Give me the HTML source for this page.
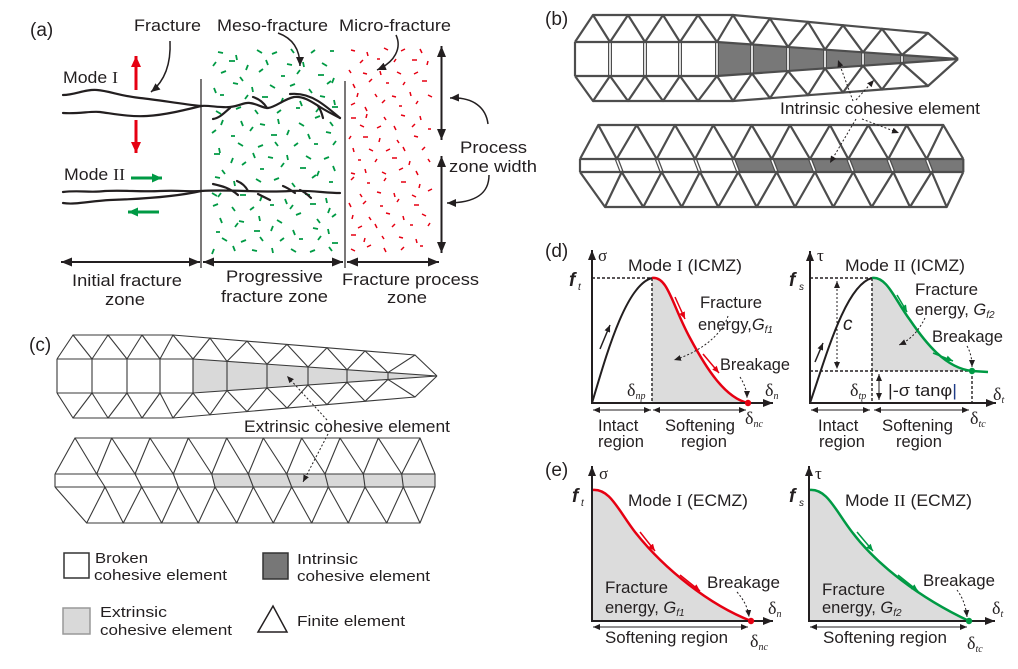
<!DOCTYPE html>
<html><head><meta charset="utf-8"><style>
html,body{margin:0;padding:0;background:#fff;}
svg{display:block;}
text{font-family:"Liberation Sans",Arial,sans-serif;fill:#231f20;}
.se{font-family:"Liberation Serif","DejaVu Serif",serif;}
</style></head><body>
<svg width="1018" height="669" viewBox="0 0 1018 669" xmlns="http://www.w3.org/2000/svg">
<defs>
<marker id="A" viewBox="0 0 10 10" refX="10" refY="5" markerWidth="11" markerHeight="9" markerUnits="userSpaceOnUse" orient="auto-start-reverse" preserveAspectRatio="none"><path d="M0 0L10 5L0 10z" fill="#231f20"/></marker>
<marker id="AR" viewBox="0 0 10 10" refX="10" refY="5" markerWidth="11" markerHeight="10" markerUnits="userSpaceOnUse" orient="auto-start-reverse" preserveAspectRatio="none"><path d="M0 0L10 5L0 10z" fill="#e60012"/></marker>
<marker id="AG" viewBox="0 0 10 10" refX="10" refY="5" markerWidth="10" markerHeight="9" markerUnits="userSpaceOnUse" orient="auto-start-reverse" preserveAspectRatio="none"><path d="M0 0L10 5L0 10z" fill="#009a44"/></marker>
<marker id="X" viewBox="0 0 10 10" refX="10" refY="5" markerWidth="10" markerHeight="8" markerUnits="userSpaceOnUse" orient="auto-start-reverse" preserveAspectRatio="none"><path d="M0 0L10 5L0 10z" fill="#231f20"/></marker>
<marker id="S" viewBox="0 0 10 10" refX="10" refY="5" markerWidth="7" markerHeight="6" markerUnits="userSpaceOnUse" orient="auto-start-reverse" preserveAspectRatio="none"><path d="M0 0L10 5L0 10z" fill="#231f20"/></marker>
<marker id="D" viewBox="0 0 10 10" refX="10" refY="5" markerWidth="7" markerHeight="6" markerUnits="userSpaceOnUse" orient="auto-start-reverse" preserveAspectRatio="none"><path d="M0 0L10 5L0 10z" fill="#231f20"/></marker>
<marker id="P" viewBox="0 0 10 10" refX="10" refY="5" markerWidth="9" markerHeight="8" markerUnits="userSpaceOnUse" orient="auto-start-reverse" preserveAspectRatio="none"><path d="M0 0L10 5L0 10z" fill="#231f20"/></marker>
<marker id="R" viewBox="0 0 10 10" refX="10" refY="5" markerWidth="7" markerHeight="6" markerUnits="userSpaceOnUse" orient="auto-start-reverse" preserveAspectRatio="none"><path d="M0 0L10 5L0 10z" fill="#e60012"/></marker>
<marker id="G" viewBox="0 0 10 10" refX="10" refY="5" markerWidth="7" markerHeight="6" markerUnits="userSpaceOnUse" orient="auto-start-reverse" preserveAspectRatio="none"><path d="M0 0L10 5L0 10z" fill="#009a44"/></marker>
</defs>

<!-- ================= PANEL (a) ================= -->
<text x="30" y="36" font-size="19">(a)</text>
<text x="134" y="31" font-size="16.5" textLength="67" lengthAdjust="spacingAndGlyphs">Fracture</text>
<text x="217" y="31" font-size="16.5" textLength="111" lengthAdjust="spacingAndGlyphs">Meso-fracture</text>
<text x="339" y="31" font-size="16.5" textLength="112" lengthAdjust="spacingAndGlyphs">Micro-fracture</text>
<text x="63" y="83" font-size="16.5" textLength="55" lengthAdjust="spacingAndGlyphs">Mode <tspan class="se">I</tspan></text>
<text x="64" y="180" font-size="16.5" textLength="61" lengthAdjust="spacingAndGlyphs">Mode <tspan class="se">II</tspan></text>
<text x="460" y="153" font-size="16.5" textLength="67" lengthAdjust="spacingAndGlyphs">Process</text>
<text x="449" y="172" font-size="16.5" textLength="88" lengthAdjust="spacingAndGlyphs">zone width</text>
<text x="72" y="286" font-size="16.5" textLength="110" lengthAdjust="spacingAndGlyphs">Initial fracture</text>
<text x="105" y="305" font-size="16.5" textLength="40" lengthAdjust="spacingAndGlyphs">zone</text>
<text x="226" y="282" font-size="16.5" textLength="97" lengthAdjust="spacingAndGlyphs">Progressive</text>
<text x="221" y="302" font-size="16.5" textLength="107" lengthAdjust="spacingAndGlyphs">fracture zone</text>
<text x="342" y="285" font-size="16.5" textLength="137" lengthAdjust="spacingAndGlyphs">Fracture process</text>
<text x="387" y="303" font-size="16.5" textLength="40" lengthAdjust="spacingAndGlyphs">zone</text>

<!-- dashes -->
<path fill="none" stroke="#009a44" stroke-width="1.8" stroke-linecap="butt" d="M218 52l5 1M236 55l1 5M257 50l5 3M272 54l5 -2M291 49l3 4M311 53l4 -3M330 51l4 0
M213 66l3 -4M229 61l6 0M248 65l-2 5M266 60l2 5M287 64l5 1M303 62l1 5M322 63l5 3
M221 73l5 -2M240 77l3 4M259 72l4 -3M281 76l4 0M297 74l3 -4M318 75l6 0M334 78l-2 5
M214 88l2 5M233 83l5 1M252 87l1 5M270 85l5 3M290 86l5 -2M309 89l3 4M327 84l4 -3
M220 95l4 0M245 99l3 -4M262 97l6 0M283 98l-2 5M300 101l2 5M320 96l5 1M334 100l1 5
M216 111l5 3M236 109l5 -2M255 110l3 4M277 113l4 -3M296 108l4 0M316 112l3 -4M332 107l6 0
M223 120l-2 5M241 121l2 5M260 124l5 1M278 119l1 5M299 123l5 3M315 118l5 -2M330 122l3 4
M212 133l4 -3M231 136l4 0M250 131l3 -4M271 135l6 0M289 130l-2 5M308 134l2 5M326 132l5 1
M219 148l1 5M238 143l5 3M258 147l5 -2M275 142l3 4M294 146l4 -3M314 144l4 0M333 145l3 -4
M214 154l6 0M233 158l-2 5M253 153l2 5M268 157l5 1M287 155l1 5M306 156l5 3M324 159l5 -2
M222 170l3 4M242 165l4 -3M260 169l4 0M281 167l3 -4M300 168l6 0M319 171l-2 5M333 166l2 5
M215 177l5 1M234 181l1 5M256 179l5 3M274 180l5 -2M292 183l3 4M312 178l4 -3M329 182l4 0
M218 197l3 -4M240 195l6 0M262 196l-2 5M285 199l2 5M305 194l5 1M326 198l1 5M212 193l5 3
M213 206l5 -2M232 207l3 4M250 210l4 -3M270 205l4 0M290 209l3 -4M310 204l6 0M330 208l-2 5
M220 218l2 5M239 221l5 1M259 216l1 5M277 220l5 3M296 215l5 -2M317 219l3 4M332 217l4 -3
M216 232l4 0M235 227l3 -4M254 231l6 0M273 226l-2 5M293 230l2 5M313 228l5 1M328 229l1 5
M222 238l5 3M241 242l5 -2M260 237l3 4M280 241l4 -3M299 239l4 0M318 240l3 -4M332 243l6 0
M214 249l-2 5M233 246l2 5M252 250l5 1M272 248l1 5M291 249l5 3M310 252l5 -2M329 247l3 4"/>
<path fill="none" stroke="#e60012" stroke-width="1.5" d="M351 50l4 1M367 52l1 4M384 48l4 2M401 51l4 -2M420 49l2 4
M360 63l3 -3M377 59l3 0M394 62l2 -3M412 60l5 0M428 61l-1 4
M349 70l2 3M363 73l4 1M380 71l1 4M397 72l4 2M414 74l4 -2
M353 84l2 4M369 82l3 -3M386 83l3 0M403 85l2 -3M422 81l5 0
M358 93l-1 4M375 94l2 3M392 96l4 1M410 92l1 4M428 95l4 2
M351 105l4 -2M365 107l2 4M382 103l3 -3M399 106l3 0M416 104l2 -3
M351 118l5 0M367 114l-1 4M384 117l2 3M401 115l4 1M420 116l1 4
M360 125l4 2M377 128l4 -2M394 126l2 4M412 127l3 -3M428 129l3 0
M349 139l2 -3M363 137l5 0M380 138l-1 4M397 140l2 3M414 136l4 1
M353 148l1 4M369 149l4 2M386 151l4 -2M403 147l2 4M422 150l3 -3
M358 160l3 0M375 162l2 -3M392 158l5 0M410 161l-1 4M428 159l2 3
M351 173l4 1M365 169l1 4M382 172l4 2M399 170l4 -2M416 171l2 4
M351 180l3 -3M367 183l3 0M384 181l2 -3M401 182l5 0M420 184l-1 4
M360 194l2 3M377 192l4 1M394 193l1 4M412 195l4 2M428 191l4 -2
M349 203l2 4M363 204l3 -3M380 206l3 0M397 202l2 -3M414 205l5 0
M353 215l-1 4M369 217l2 3M386 213l4 1M403 216l1 4M422 214l4 2
M358 228l4 -2M375 224l2 4M392 227l3 -3M410 225l3 0M428 226l2 -3
M351 235l5 0M365 238l-1 4M382 236l2 3M399 237l4 1M416 239l1 4
M351 249l4 2M367 247l4 -2M384 248l2 4M401 250l3 -3M420 246l3 0"/>

<!-- zone separators -->
<g stroke="#231f20" stroke-width="1.2">
<line x1="201" y1="79" x2="201" y2="268"/>
<line x1="345" y1="81" x2="345" y2="268"/>
</g>
<!-- fractures -->
<g fill="none" stroke="#231f20" stroke-width="2.2" stroke-linecap="round">
<path d="M63,95 C75,95 85,89 97,90 C110,91 120,96 140,98 C160,100 180,104 201,106"/>
<path d="M63,113 C80,114 90,111 100,112 C115,114 130,117 147,116 C165,115 185,110 201,106"/>
<path d="M201,106 C208,105 220,108 230,107 C240,106 244,102 250,103 C258,104 262,108 268,108 C276,107 284,99 294,97 C304,96 312,102 320,107 C328,112 334,115 340,118"/>
<path d="M213,119 C220,118 225,112 230,108"/>
<path d="M253,97 C259,99 264,103 267,108"/>
<path d="M290,94 C300,93 310,96 318,101 C326,106 333,112 340,118"/>
<path d="M318,106 C321,110 322,114 323,118"/>
<path d="M63,192 C80,190 90,193 105,191 C125,190 140,192 160,191 C180,190 190,192 201,191"/>
<path d="M63,203 C75,205 90,201 110,200 C140,199 175,197 201,191"/>
<path d="M201,191 C230,189 260,193 290,191 C310,190 325,193 340,193"/>
<path d="M213,184 C222,186 230,188 238,195"/>
<path d="M237,181 C242,183 246,187 248,191"/>
<path d="M258,194 C262,196 266,198 270,200"/>
<path d="M283,186 C288,188 292,191 295,193"/>
<path d="M300,190 C305,192 308,195 311,198"/>
</g>
<!-- mode arrows -->
<line x1="136" y1="90" x2="136" y2="56" stroke="#e60012" stroke-width="3" marker-end="url(#AR)"/>
<line x1="136" y1="120" x2="136" y2="153" stroke="#e60012" stroke-width="3" marker-end="url(#AR)"/>
<line x1="131" y1="178" x2="162" y2="178" stroke="#009a44" stroke-width="3" marker-end="url(#AG)"/>
<line x1="159" y1="212" x2="128" y2="212" stroke="#009a44" stroke-width="3" marker-end="url(#AG)"/>
<!-- pointers -->
<g fill="none" stroke="#231f20" stroke-width="1.5">
<path d="M170,41 C171,62 166,80 151,92" marker-end="url(#P)"/>
<path d="M278,33 C292,38 300,48 300,66" marker-end="url(#P)"/>
<path d="M396,35 C402,48 395,62 377,70" marker-end="url(#P)"/>
<path d="M488,124 C486,108 474,97 450,98" marker-end="url(#P)"/>
<path d="M489,175 C489,192 478,203 447,203" marker-end="url(#P)"/>
</g>
<g stroke="#231f20" stroke-width="2">
<line x1="441.5" y1="46" x2="441.5" y2="140" marker-start="url(#A)" marker-end="url(#A)"/>
<line x1="441.5" y1="156" x2="441.5" y2="253" marker-start="url(#A)" marker-end="url(#A)"/>
<line x1="61" y1="262" x2="200" y2="262" marker-start="url(#A)" marker-end="url(#A)"/>
<line x1="203" y1="262" x2="343" y2="262" marker-start="url(#A)" marker-end="url(#A)"/>
<line x1="347" y1="262" x2="439" y2="262" marker-start="url(#A)" marker-end="url(#A)"/>
</g>

<!-- ================= PANEL (b) ================= -->
<text x="545" y="25" font-size="19">(b)</text>
<polygon points="717,42 958,59 717,76" fill="#787878"/>
<polygon points="733.3,159 963.3,159 963.3,172 738.3,172" fill="#787878"/>
<g stroke="#4d4d4d" stroke-width="4">
<line x1="610" y1="42" x2="610" y2="76"/><line x1="645" y1="42" x2="645" y2="76"/><line x1="680" y1="42" x2="680" y2="76"/><line x1="717" y1="42" x2="717" y2="76"/>
<line x1="752" y1="44.5" x2="752" y2="73.5"/><line x1="788" y1="47" x2="788" y2="71"/><line x1="825" y1="49.6" x2="825" y2="68.4"/><line x1="863" y1="52.3" x2="863" y2="65.7"/><line x1="902" y1="55" x2="902" y2="63"/>
<line x1="616.7" y1="159" x2="621.7" y2="172"/><line x1="656.7" y1="159" x2="661.7" y2="172"/><line x1="695" y1="159" x2="700" y2="172"/><line x1="733.3" y1="159" x2="738.3" y2="172"/><line x1="771.7" y1="159" x2="776.7" y2="172"/><line x1="810" y1="159" x2="815" y2="172"/><line x1="848.3" y1="159" x2="853.3" y2="172"/><line x1="888.3" y1="159" x2="893.3" y2="172"/><line x1="926.7" y1="159" x2="931.7" y2="172"/>
</g>
<g stroke="#fff" stroke-width="1.6">
<line x1="610" y1="43" x2="610" y2="75"/><line x1="645" y1="43" x2="645" y2="75"/><line x1="680" y1="43" x2="680" y2="75"/><line x1="717" y1="43" x2="717" y2="75"/>
<line x1="752" y1="45.5" x2="752" y2="72.5"/><line x1="788" y1="48" x2="788" y2="70"/><line x1="825" y1="50.6" x2="825" y2="67.4"/><line x1="863" y1="53.3" x2="863" y2="64.7"/><line x1="902" y1="56" x2="902" y2="62"/>
<line x1="617" y1="160" x2="621.3" y2="171"/><line x1="657" y1="160" x2="661.3" y2="171"/><line x1="695.3" y1="160" x2="699.6" y2="171"/><line x1="733.6" y1="160" x2="737.9" y2="171"/><line x1="772" y1="160" x2="776.3" y2="171"/><line x1="810.3" y1="160" x2="814.6" y2="171"/><line x1="848.6" y1="160" x2="852.9" y2="171"/><line x1="888.6" y1="160" x2="892.9" y2="171"/><line x1="927" y1="160" x2="931.3" y2="171"/>
</g>
<g fill="none" stroke="#4d4d4d" stroke-width="2.2" stroke-linejoin="round">
<polyline points="575,42 593,15 610,42 628,15 645,42 663,15 680,42 698,15 717,42 733,15 752,44.5 770,18.4 788,47 808,21.9 825,49.6 843,25.2 863,52.3 882,28.8 902,55 928,33 958,59"/>
<polyline points="593,15 733,15 770,18.4 808,21.9 843,25.2 882,28.8 928,33"/>
<polyline points="575,42 717,42 958,59"/>
<polyline points="575,76 717,76 958,59"/>
<polyline points="575,76 593,101 610,76 628,101 645,76 663,101 680,76 698,101 717,76 733,101 752,73.5 770,98.2 788,71 808,95.2 825,68.4 843,92.5 863,65.7 882,89.5 902,63 928,86 958,59"/>
<polyline points="593,101 733,101 770,98.2 808,95.2 843,92.5 882,89.5 928,86"/>
<line x1="575" y1="42" x2="575" y2="76"/>
<polyline points="580,159 598.3,125 616.7,159 636.7,125 656.7,159 675,125 695,159 713.3,125 733.3,159 751.7,125 771.7,159 790,125 810,159 830,125 848.3,159 868.3,125 888.3,159 906.7,125 926.7,159 943.3,125 963.3,159"/>
<line x1="598.3" y1="125" x2="943.3" y2="125"/>
<line x1="580" y1="159" x2="963.3" y2="159"/>
<line x1="580" y1="172" x2="963.3" y2="172"/>
<polyline points="580,172 605,207 621.7,172 643.3,207 661.7,172 681.7,207 700,172 718.3,207 738.3,172 756.7,207 776.7,172 795,207 815,172 833.3,207 853.3,172 871.7,207 893.3,172 910,207 931.7,172 946.7,207 963.3,172"/>
<line x1="605" y1="207" x2="946.7" y2="207"/>
<line x1="580" y1="159" x2="580" y2="172"/>
<line x1="963.3" y1="159" x2="963.3" y2="172"/>
</g>
<rect x="778" y="100" width="204" height="18" fill="#fff"/>
<text x="780" y="114" font-size="16.5" textLength="200" lengthAdjust="spacingAndGlyphs">Intrinsic cohesive element</text>
<g fill="none" stroke="#231f20" stroke-width="1" stroke-dasharray="2 2">
<line x1="853" y1="101" x2="838" y2="60" marker-end="url(#D)"/>
<line x1="856" y1="100" x2="874" y2="80" marker-end="url(#D)"/>
<line x1="856" y1="119" x2="830" y2="163" marker-end="url(#D)"/>
<line x1="862" y1="119" x2="899" y2="133" marker-end="url(#D)"/>
</g>

<!-- ================= PANEL (c) ================= -->
<text x="29" y="351" font-size="19">(c)</text>
<polygon points="193,359 437,376 193,393" fill="#d9d9d9"/>
<polygon points="211.7,474 435,474 435,487 215,487" fill="#d9d9d9"/>
<g fill="none" stroke="#3a3a3a" stroke-width="1.1" stroke-linejoin="round">
<polyline points="57,359 73,335 92,359 108,335 127,359 142,335 160,359 173,335 193,359 210,338.1 227,361.4 247,341.1 267,364.2 287,344.4 308,367 327,347.7 347,369.7 365,350.9 388,372.6 415,355 437,376"/>
<polyline points="73,335 173,335 415,355"/>
<polyline points="57,359 193,359 437,376"/>
<polyline points="57,393 193,393 437,376"/>
<polyline points="57,393 73,418 92,393 108,418 127,393 142,418 160,393 173,418 193,393 210,414.8 227,390.6 247,411.6 267,387.8 287,408.1 308,385 327,404.6 347,382.3 365,401.3 388,379.4 415,397 437,376"/>
<polyline points="73,418 173,418 415,397"/>
<line x1="57" y1="359" x2="57" y2="393"/>
<line x1="92" y1="359" x2="92" y2="393"/><line x1="127" y1="359" x2="127" y2="393"/><line x1="160" y1="359" x2="160" y2="393"/><line x1="193" y1="359" x2="193" y2="393"/>
<line x1="227" y1="361.4" x2="227" y2="390.6"/><line x1="267" y1="364.2" x2="267" y2="387.8"/><line x1="308" y1="367" x2="308" y2="385"/><line x1="347" y1="369.7" x2="347" y2="382.3"/><line x1="388" y1="372.6" x2="388" y2="379.4"/>
<polyline points="55,474 75,438 96.7,474 111.7,438 135,474 150,438 173.3,474 188.3,438 211.7,474 226.7,438 248.3,474 263.3,438 286.7,474 301.7,438 325,474 340,438 363.3,474 378.3,438 401.7,474 420,438 435,474"/>
<line x1="75" y1="438" x2="420" y2="438"/>
<line x1="55" y1="474" x2="435" y2="474"/>
<line x1="55" y1="487" x2="435" y2="487"/>
<polyline points="55,487 86.7,523 105,487 123.3,523 141.7,487 161.7,523 178.3,487 198.3,523 215,487 236.7,523 253.3,487 273.3,523 291.7,487 311.7,523 328.3,487 348.3,523 365,487 386.7,523 403.3,487 420,523 435,487"/>
<line x1="86.7" y1="523" x2="420" y2="523"/>
<line x1="55" y1="474" x2="55" y2="487"/><line x1="435" y1="474" x2="435" y2="487"/>
<line x1="96.7" y1="474" x2="105" y2="487"/><line x1="135" y1="474" x2="141.7" y2="487"/><line x1="173.3" y1="474" x2="178.3" y2="487"/><line x1="211.7" y1="474" x2="215" y2="487"/><line x1="248.3" y1="474" x2="253.3" y2="487"/><line x1="286.7" y1="474" x2="291.7" y2="487"/><line x1="325" y1="474" x2="328.3" y2="487"/><line x1="363.3" y1="474" x2="365" y2="487"/><line x1="401.7" y1="474" x2="403.3" y2="487"/>
</g>
<text x="244" y="432" font-size="16.5" textLength="206" lengthAdjust="spacingAndGlyphs">Extrinsic cohesive element</text>
<g fill="none" stroke="#231f20" stroke-width="1" stroke-dasharray="2 2">
<line x1="327" y1="420" x2="287" y2="376" marker-end="url(#D)"/>
<line x1="328" y1="434" x2="303" y2="482" marker-end="url(#D)"/>
</g>

<!-- ================= LEGEND ================= -->
<rect x="64" y="553" width="25" height="25" fill="#fff" stroke="#333" stroke-width="1.5"/>
<rect x="263" y="553" width="25" height="26" fill="#777" stroke="#333" stroke-width="1.5"/>
<rect x="63" y="608" width="27" height="26" fill="#d9d9d9" stroke="#999" stroke-width="1.5"/>
<polygon points="258,632 273,606 287,632" fill="none" stroke="#231f20" stroke-width="1.5"/>
<text x="95" y="563" font-size="15" textLength="53" lengthAdjust="spacingAndGlyphs">Broken</text>
<text x="94" y="580" font-size="15" textLength="133" lengthAdjust="spacingAndGlyphs">cohesive element</text>
<text x="297" y="564" font-size="15" textLength="61" lengthAdjust="spacingAndGlyphs">Intrinsic</text>
<text x="297" y="581" font-size="15" textLength="133" lengthAdjust="spacingAndGlyphs">cohesive element</text>
<text x="100" y="617" font-size="15" textLength="67" lengthAdjust="spacingAndGlyphs">Extrinsic</text>
<text x="100" y="635" font-size="15" textLength="132" lengthAdjust="spacingAndGlyphs">cohesive element</text>
<text x="297" y="626" font-size="15" textLength="108" lengthAdjust="spacingAndGlyphs">Finite element</text>

<!-- ================= PANEL (d) ================= -->
<text x="545" y="257" font-size="19">(d)</text>
<!-- left chart -->
<path d="M652,278 C668,276 672,305 690,338 C706,368 725,398 748,403 L652,403 Z" fill="#dcdcdc"/>
<g fill="none" stroke="#231f20" stroke-width="1.4" stroke-dasharray="3 2">
<line x1="592" y1="278" x2="652" y2="278"/>
<line x1="652" y1="278" x2="652" y2="403"/>
</g>
<path d="M592,403 C605,360 625,285 652,278" fill="none" stroke="#231f20" stroke-width="2"/>
<path d="M652,278 C668,276 672,305 690,338 C706,368 725,398 748,403" fill="none" stroke="#e60012" stroke-width="2.5"/>
<g stroke="#231f20" stroke-width="2">
<line x1="592" y1="404" x2="592" y2="250" marker-end="url(#X)"/>
<line x1="591" y1="403" x2="773" y2="403" marker-end="url(#X)"/>
</g>
<circle cx="748" cy="403" r="3.2" fill="#e60012"/>
<line x1="675" y1="297" x2="685" y2="319" stroke="#e60012" stroke-width="1.5" marker-end="url(#R)"/>
<line x1="703" y1="354" x2="719" y2="373" stroke="#e60012" stroke-width="1.5" marker-end="url(#R)"/>
<line x1="600" y1="349" x2="610" y2="325" stroke="#231f20" stroke-width="1.5" marker-end="url(#S)"/>
<g stroke="#231f20" stroke-width="1">
<line x1="593" y1="410" x2="651" y2="410" marker-start="url(#S)" marker-end="url(#S)"/>
<line x1="653" y1="410" x2="746" y2="410" marker-start="url(#S)" marker-end="url(#S)"/>
</g>
<g fill="none" stroke="#231f20" stroke-width="1" stroke-dasharray="2 2">
<path d="M728,316 C722,335 700,352 674,360" marker-end="url(#D)"/>
<path d="M740,377 C745,385 747,392 747,398" marker-end="url(#D)"/>
</g>
<text x="598" y="261" class="se" font-size="17">σ</text>
<text x="569" y="286" font-size="19" font-weight="bold" font-style="italic">f</text>
<text x="578" y="290" font-size="10" font-style="italic">t</text>
<text x="628" y="271" font-size="16.5" textLength="114" lengthAdjust="spacingAndGlyphs">Mode <tspan class="se">I</tspan> (ICMZ)</text>
<text x="700" y="308" font-size="16.5" textLength="62" lengthAdjust="spacingAndGlyphs">Fracture</text>
<text x="698" y="330" font-size="16.5">energy,<tspan font-style="italic">G</tspan><tspan font-style="italic" font-size="10" dy="3">f1</tspan></text>
<text x="720" y="370" font-size="16.5" textLength="70" lengthAdjust="spacingAndGlyphs">Breakage</text>
<text x="765" y="396" class="se" font-size="18">δ<tspan font-size="10" font-style="italic" dy="3">n</tspan></text>
<text x="627" y="396" class="se" font-size="18">δ<tspan font-size="10" font-style="italic" dy="3">np</tspan></text>
<text x="745" y="424" class="se" font-size="18">δ<tspan font-size="10" font-style="italic" dy="3">nc</tspan></text>
<text x="598" y="431" font-size="16.5">Intact</text>
<text x="598" y="447" font-size="16.5">region</text>
<text x="665" y="431" font-size="16.5" textLength="70" lengthAdjust="spacingAndGlyphs">Softening</text>
<text x="681" y="447" font-size="16.5">region</text>

<!-- right chart -->
<path d="M872,278 C887,276 895,300 910,320 C925,342 945,368 972,371 L872,371 Z" fill="#dcdcdc"/>
<g fill="none" stroke="#231f20" stroke-width="1.4" stroke-dasharray="3 2">
<line x1="810" y1="278" x2="872" y2="278"/>
<line x1="872" y1="278" x2="872" y2="403"/>
<line x1="810" y1="371" x2="972" y2="371"/>
<line x1="972" y1="371" x2="972" y2="403"/>
</g>
<path d="M810,403 C825,360 845,285 872,278" fill="none" stroke="#231f20" stroke-width="2"/>
<path d="M872,278 C887,276 895,300 910,320 C925,342 945,368 972,371 L988,372" fill="none" stroke="#009a44" stroke-width="2.5"/>
<g stroke="#231f20" stroke-width="2">
<line x1="810" y1="404" x2="810" y2="251" marker-end="url(#X)"/>
<line x1="809" y1="403" x2="996" y2="403" marker-end="url(#X)"/>
</g>
<circle cx="972" cy="371" r="3.2" fill="#009a44"/>
<line x1="897" y1="295" x2="907" y2="312" stroke="#009a44" stroke-width="1.5" marker-end="url(#G)"/>
<line x1="933" y1="353" x2="953" y2="361" stroke="#009a44" stroke-width="1.5" marker-end="url(#G)"/>
<line x1="815" y1="362" x2="823" y2="343" stroke="#231f20" stroke-width="1.5" marker-end="url(#S)"/>
<line x1="837" y1="281" x2="837" y2="369" stroke="#231f20" stroke-width="1" stroke-dasharray="2 2" marker-start="url(#S)" marker-end="url(#S)"/>
<line x1="879" y1="374" x2="879" y2="400" stroke="#231f20" stroke-width="1" marker-start="url(#S)" marker-end="url(#S)"/>
<g stroke="#231f20" stroke-width="1">
<line x1="811" y1="410" x2="870" y2="410" marker-start="url(#S)" marker-end="url(#S)"/>
<line x1="874" y1="410" x2="969" y2="410" marker-start="url(#S)" marker-end="url(#S)"/>
</g>
<g fill="none" stroke="#231f20" stroke-width="1" stroke-dasharray="2 2">
<path d="M925,318 C918,332 910,340 899,345" marker-end="url(#D)"/>
<path d="M967,346 C971,353 972,360 972,367" marker-end="url(#D)"/>
</g>
<text x="817" y="261" class="se" font-size="17">τ</text>
<text x="789" y="286" font-size="19" font-weight="bold" font-style="italic">f</text>
<text x="799" y="290" font-size="10" font-style="italic">s</text>
<text x="845" y="271" font-size="16.5" textLength="120" lengthAdjust="spacingAndGlyphs">Mode <tspan class="se">II</tspan> (ICMZ)</text>
<text x="915" y="295" font-size="16.5" textLength="63" lengthAdjust="spacingAndGlyphs">Fracture</text>
<text x="915" y="315" font-size="16.5">energy, <tspan font-style="italic">G</tspan><tspan font-style="italic" font-size="10" dy="3">f2</tspan></text>
<text x="932" y="342" font-size="16.5" textLength="71" lengthAdjust="spacingAndGlyphs">Breakage</text>
<text x="843" y="330" font-size="19" font-style="italic">c</text>
<text x="850" y="396" class="se" font-size="18">δ<tspan font-size="10" font-style="italic" dy="3">tp</tspan></text>
<text x="888" y="396" font-size="16.5" textLength="69" lengthAdjust="spacingAndGlyphs">|-σ tanφ<tspan fill="#1f3c88">|</tspan></text>
<text x="993" y="400" class="se" font-size="18">δ<tspan font-size="10" font-style="italic" dy="3">t</tspan></text>
<text x="970" y="424" class="se" font-size="18">δ<tspan font-size="10" font-style="italic" dy="3">tc</tspan></text>
<text x="818" y="431" font-size="16.5">Intact</text>
<text x="819" y="447" font-size="16.5">region</text>
<text x="882" y="431" font-size="16.5" textLength="71" lengthAdjust="spacingAndGlyphs">Softening</text>
<text x="896" y="447" font-size="16.5">region</text>

<!-- ================= PANEL (e) ================= -->
<text x="545" y="476" font-size="19">(e)</text>
<!-- left -->
<path d="M592,490 C610,488 618,510 635,532 C665,570 710,605 751,621 L592,621 Z" fill="#dcdcdc"/>
<path d="M592,490 C610,488 618,510 635,532 C665,570 710,605 751,621" fill="none" stroke="#e60012" stroke-width="2.5"/>
<g stroke="#231f20" stroke-width="2">
<line x1="592" y1="622" x2="592" y2="466" marker-end="url(#X)"/>
<line x1="591" y1="621" x2="773" y2="621" marker-end="url(#X)"/>
</g>
<circle cx="751" cy="621" r="3.2" fill="#e60012"/>
<line x1="640" y1="532" x2="655" y2="551" stroke="#e60012" stroke-width="1.5" marker-end="url(#R)"/>
<line x1="680" y1="575" x2="700" y2="591" stroke="#e60012" stroke-width="1.5" marker-end="url(#R)"/>
<line x1="593" y1="627" x2="748" y2="627" stroke="#231f20" stroke-width="1" marker-start="url(#S)" marker-end="url(#S)"/>
<path d="M737,592 C744,600 748,608 749,617" fill="none" stroke="#231f20" stroke-width="1" stroke-dasharray="2 2" marker-end="url(#D)"/>
<text x="599" y="479" class="se" font-size="17">σ</text>
<text x="572" y="502" font-size="19" font-weight="bold" font-style="italic">f</text>
<text x="581" y="506" font-size="10" font-style="italic">t</text>
<text x="628" y="506" font-size="16.5" textLength="120" lengthAdjust="spacingAndGlyphs">Mode <tspan class="se">I</tspan> (ECMZ)</text>
<text x="605" y="593" font-size="16.5" textLength="63" lengthAdjust="spacingAndGlyphs">Fracture</text>
<text x="605" y="613" font-size="16.5">energy, <tspan font-style="italic">G</tspan><tspan font-style="italic" font-size="10" dy="3">f1</tspan></text>
<text x="707" y="588" font-size="16.5" textLength="73" lengthAdjust="spacingAndGlyphs">Breakage</text>
<text x="768" y="614" class="se" font-size="18">δ<tspan font-size="10" font-style="italic" dy="3">n</tspan></text>
<text x="605" y="643" font-size="16.5" textLength="123" lengthAdjust="spacingAndGlyphs">Softening region</text>
<text x="750" y="647" class="se" font-size="18">δ<tspan font-size="10" font-style="italic" dy="3">nc</tspan></text>
<!-- right -->
<path d="M809,490 C827,488 835,510 852,532 C877,565 920,598 969,621 L809,621 Z" fill="#dcdcdc"/>
<path d="M809,490 C827,488 835,510 852,532 C877,565 920,598 969,621" fill="none" stroke="#009a44" stroke-width="2.5"/>
<g stroke="#231f20" stroke-width="2">
<line x1="809" y1="622" x2="809" y2="466" marker-end="url(#X)"/>
<line x1="808" y1="621" x2="995" y2="621" marker-end="url(#X)"/>
</g>
<circle cx="969" cy="621" r="3.2" fill="#009a44"/>
<line x1="857" y1="532" x2="873" y2="551" stroke="#009a44" stroke-width="1.5" marker-end="url(#G)"/>
<line x1="898" y1="575" x2="918" y2="591" stroke="#009a44" stroke-width="1.5" marker-end="url(#G)"/>
<line x1="810" y1="627" x2="967" y2="627" stroke="#231f20" stroke-width="1" marker-start="url(#S)" marker-end="url(#S)"/>
<path d="M957,590 C963,598 966,607 967,617" fill="none" stroke="#231f20" stroke-width="1" stroke-dasharray="2 2" marker-end="url(#D)"/>
<text x="815" y="479" class="se" font-size="17">τ</text>
<text x="789" y="502" font-size="19" font-weight="bold" font-style="italic">f</text>
<text x="799" y="506" font-size="10" font-style="italic">s</text>
<text x="845" y="506" font-size="16.5" textLength="127" lengthAdjust="spacingAndGlyphs">Mode <tspan class="se">II</tspan> (ECMZ)</text>
<text x="822" y="595" font-size="16.5" textLength="63" lengthAdjust="spacingAndGlyphs">Fracture</text>
<text x="822" y="613" font-size="16.5">energy, <tspan font-style="italic">G</tspan><tspan font-style="italic" font-size="10" dy="3">f2</tspan></text>
<text x="923" y="586" font-size="16.5" textLength="72" lengthAdjust="spacingAndGlyphs">Breakage</text>
<text x="992" y="614" class="se" font-size="18">δ<tspan font-size="10" font-style="italic" dy="3">t</tspan></text>
<text x="823" y="643" font-size="16.5" textLength="124" lengthAdjust="spacingAndGlyphs">Softening region</text>
<text x="967" y="649" class="se" font-size="18">δ<tspan font-size="10" font-style="italic" dy="3">tc</tspan></text>
</svg>
</body></html>
